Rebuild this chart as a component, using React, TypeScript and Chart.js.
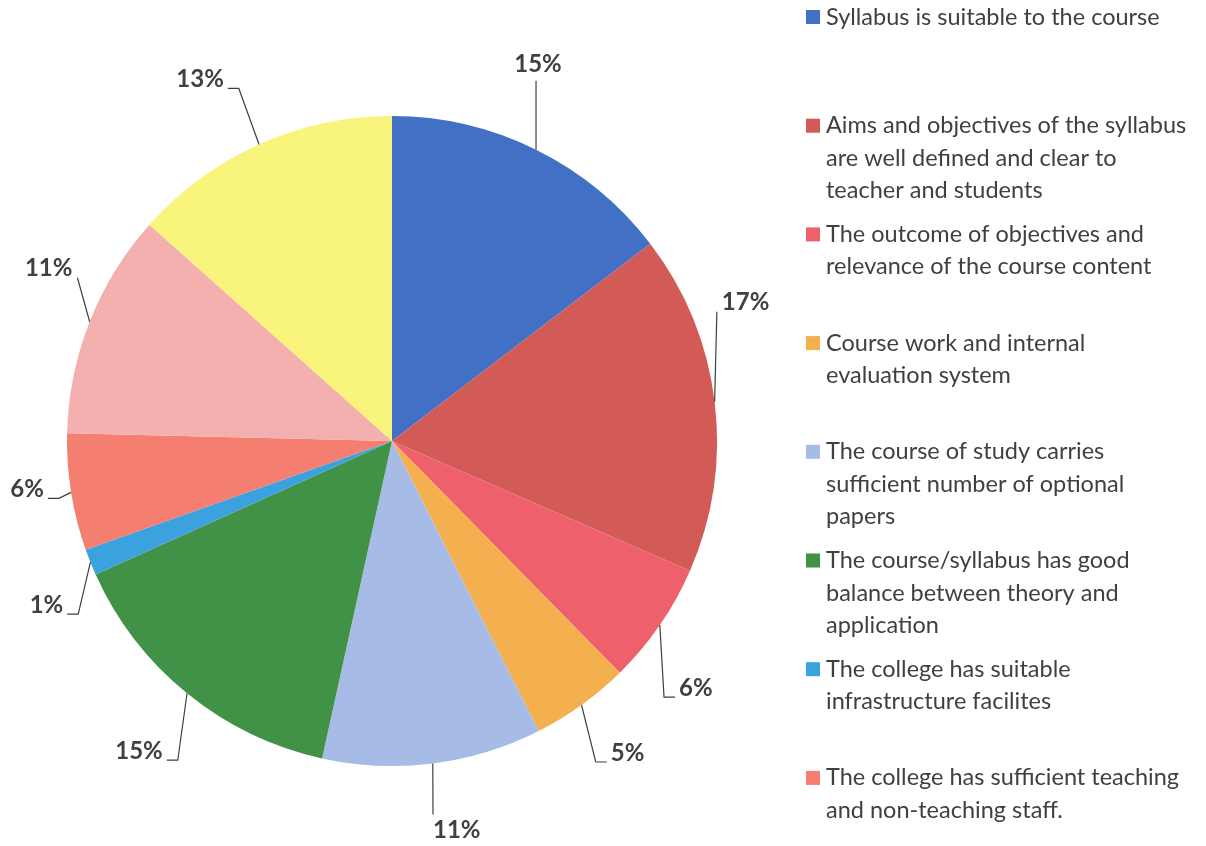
import React, { useEffect, useRef } from "react";
import { Chart, registerables } from "chart.js";

Chart.register(...registerables);

// Categories (legend text, wrapped as displayed)
const categories: string[][] = [
  ["Syllabus is suitable to the course"],
  ["Aims and objectives of the syllabus", "are well defined and clear to", "teacher and students"],
  ["The outcome of objectives and", "relevance of the course content"],
  ["Course work and internal", "evaluation system"],
  ["The course of study carries", "sufficient number of optional", "papers"],
  ["The course/syllabus has good", "balance between theory and", "application"],
  ["The college has suitable", "infrastructure facilites"],
  ["The college has sufficient teaching", "and non-teaching staff."],
  [],
  [],
];

// Slice values (percent shares)
const values: number[] = [14.6, 16.9, 6.1, 4.9, 10.9, 14.8, 1.3, 5.8, 11.2, 13.4];

const colors: string[] = [
  "#4170C4",
  "#D25B58",
  "#EF606D",
  "#F4AF4F",
  "#A6BCE7",
  "#419147",
  "#3CA2DF",
  "#F47F70",
  "#F4B0AE",
  "#F8F47C",
];

// Number of entries that appear in the legend
const legendCount = 8;

// Data-label placement (offset of label centre from slice edge point) and leader style
const labelOffsets: [number, number][] = [
  [2, -85],
  [31, -99],
  [36, 63],
  [46, 48],
  [24, 67],
  [-48, 58],
  [-44, 43],
  [-44, -3],
  [-41, -53],
  [-59, -65],
];
const leaderModes: string[] = ["v", "c", "h", "h", "v", "h", "h", "h", "c", "h"];

const LABEL_FONT = "bold 24px Lato, 'Open Sans', sans-serif";
const LEGEND_FONT = "23.5px Lato, 'Open Sans', sans-serif";
const TEXT_COLOR = "#404040";

const outsideLabels = {
  id: "outsideLabels",
  afterDatasetsDraw(chart: any) {
    const ctx: CanvasRenderingContext2D = chart.ctx;
    const meta = chart.getDatasetMeta(0);
    const data: number[] = chart.data.datasets[0].data;
    const total = data.reduce((a, b) => a + b, 0);
    ctx.save();
    ctx.font = LABEL_FONT;
    ctx.textAlign = "center";
    ctx.textBaseline = "middle";
    ctx.strokeStyle = "#404040";
    ctx.lineWidth = 1.2;
    meta.data.forEach((arc: any, i: number) => {
      const p = arc.getProps(["x", "y", "startAngle", "endAngle", "outerRadius"], true);
      const mid = (p.startAngle + p.endAngle) / 2;
      const ex = p.x + Math.cos(mid) * p.outerRadius;
      const ey = p.y + Math.sin(mid) * p.outerRadius;
      const off = labelOffsets[i];
      const lx = ex + off[0];
      const ly = ey + off[1];
      const text = Math.round((data[i] / total) * 100) + "%";
      const halfW = ctx.measureText(text).width / 2;
      const halfH = 11;
      const mode = leaderModes[i];
      ctx.beginPath();
      ctx.moveTo(ex, ey);
      if (mode === "v") {
        const x = Math.min(Math.max(ex, lx - halfW), lx + halfW);
        const y = ly < ey ? ly + halfH + 5 : ly - halfH - 5;
        ctx.lineTo(x, y);
      } else if (mode === "c") {
        const side = off[0] > 0 ? -1 : 1;
        ctx.lineTo(lx + side * (halfW + 5), ly + 9);
      } else {
        const side = off[0] > 0 ? -1 : 1;
        const tickEnd = lx + side * (halfW + 4);
        const elbow = tickEnd + side * 11;
        ctx.lineTo(elbow, ly + 9);
        ctx.lineTo(tickEnd, ly + 9);
      }
      ctx.stroke();
      ctx.fillStyle = TEXT_COLOR;
      ctx.fillText(text, lx, ly);
    });
    ctx.restore();
  },
};

const sideLegend = {
  id: "sideLegend",
  afterDraw(chart: any) {
    const ctx: CanvasRenderingContext2D = chart.ctx;
    const labels: string[][] = chart.data.labels;
    const bg: string[] = chart.data.datasets[0].backgroundColor;
    const x0 = 806;
    const top = 17;
    const pitch = 108.7;
    const lineH = 32.5;
    ctx.save();
    ctx.font = LEGEND_FONT;
    ctx.textAlign = "left";
    ctx.textBaseline = "middle";
    for (let i = 0; i < legendCount; i++) {
      const y = top + i * pitch;
      ctx.fillStyle = bg[i];
      ctx.fillRect(x0, y - 7, 14, 14);
      ctx.fillStyle = TEXT_COLOR;
      labels[i].forEach((line, k) => {
        ctx.fillText(line, x0 + 20, y + k * lineH);
      });
    }
    ctx.restore();
  },
};

export default function App() {
  const canvasRef = useRef<HTMLCanvasElement | null>(null);

  useEffect(() => {
    if (!canvasRef.current) return;
    const chart = new Chart(canvasRef.current, {
      type: "pie",
      data: {
        labels: categories as any,
        datasets: [
          {
            data: values,
            backgroundColor: colors,
            borderWidth: 0,
          },
        ],
      },
      options: {
        responsive: false,
        animation: false,
        devicePixelRatio: 1,
        layout: { padding: { left: 67, top: 116, right: 489, bottom: 80 } },
        plugins: {
          legend: { display: false },
          tooltip: { enabled: false },
          title: { display: false },
        },
      },
      plugins: [outsideLabels, sideLegend],
    });
    return () => chart.destroy();
  }, []);

  return (
    <div style={{ position: "absolute", left: 0, top: 0, width: 1206, height: 846, background: "#ffffff" }}>
      <canvas ref={canvasRef} width={1206} height={846} style={{ width: 1206, height: 846, display: "block" }} />
    </div>
  );
}
